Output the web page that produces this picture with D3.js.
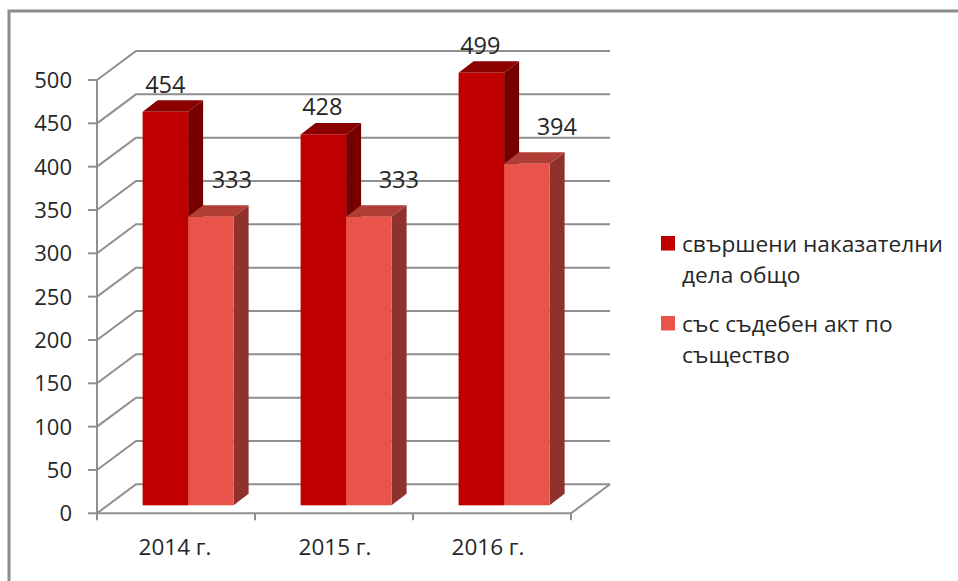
<!DOCTYPE html>
<html><head><meta charset="utf-8">
<script src="https://cdn.jsdelivr.net/npm/d3@7"></script>
<style>html,body{margin:0;padding:0;background:#fff}svg{display:block}text{font-family:"Open Sans",sans-serif;fill:#262626}</style>
</head><body><svg id="c" width="958" height="581"></svg>
<script>
const categories=["2014 г.","2015 г.","2016 г."];
const seriesNames=["свършени наказателни дела общо","със съдебен акт по същество"];
const legendLines=[["свършени наказателни","дела общо"],["със съдебен акт по","същество"]];
const totalCases=[454,428,499];
const withActs=[333,333,394];
const yTicks=[0,50,100,150,200,250,300,350,400,450,500];

const svg=d3.select("#c");
const W=958,H=581;
const y=d3.scaleLinear().domain([0,500]).range([513.3,80]);
const x=d3.scaleBand().domain(categories).range([97,571]);
const wall={dx:39,dy:-29}, barZ={dx:10.6,dy:-8}, barD={dx:15,dy:-11.5};
const barOffset=35, barW=45.5;
const grid="#8f8f8f";
const colors=[{front:"#c00000",top:"#8b0000",side:"#760000"},{front:"#e8534a",top:"#b03e36",side:"#8f322c"}];
const series=[totalCases,withActs];
const labelDx=[[0,-1,-1],[21,30,30]];
const labelDy=[-19,-28.5];
const catDx=[-1,1,-4];

svg.append("path").attr("d",`M9,${H}V11H${W}`).attr("fill","none").attr("stroke","#8c8c8c").attr("stroke-width",3);

const g=svg.append("g").attr("fill","none").attr("stroke",grid).attr("stroke-width",2);
yTicks.forEach(t=>{
  const p=y(t);
  g.append("path").attr("d",`M${x.range()[0]},${p}L${x.range()[0]+wall.dx},${p+wall.dy}H${x.range()[1]+wall.dx}`);
  g.append("line").attr("x1",88).attr("x2",97).attr("y1",p).attr("y2",p);
});
g.append("path").attr("d",`M97,${y(500)}V${y(0)}H571L${571+wall.dx},${y(0)+wall.dy}`);
const xt=[...categories.map(c=>x(c)),571];
xt.forEach(v=>g.append("line").attr("x1",v).attr("x2",v).attr("y1",y(0)).attr("y2",y(0)+7));

svg.append("g").selectAll("text").data(yTicks).join("text")
  .attr("x",72).attr("y",d=>y(d)+8).attr("text-anchor","end").attr("font-size",22).text(d=>d);
svg.append("g").selectAll("text").data(categories).join("text")
  .attr("x",(c,i)=>x(c)+x.bandwidth()/2+catDx[i]).attr("y",555).attr("text-anchor","middle").attr("font-size",22.5).text(c=>c);

categories.forEach((c,i)=>{
  series.forEach((s,j)=>{
    const L=x(c)+barOffset+barZ.dx+j*barW, R=L+barW, B=y(0)+barZ.dy, T=y(s[i])+barZ.dy;
    const b=svg.append("g");
    b.append("path").attr("fill",colors[j].side).attr("d",`M${R},${T}l${barD.dx},${barD.dy}V${B+barD.dy}L${R},${B}Z`);
    b.append("path").attr("fill",colors[j].top).attr("d",`M${L},${T}l${barD.dx},${barD.dy}H${R+barD.dx}L${R},${T}Z`);
    b.append("rect").attr("x",L).attr("y",T).attr("width",barW).attr("height",B-T).attr("fill",colors[j].front);
  });
});
categories.forEach((c,i)=>{
  series.forEach((s,j)=>{
    const L=x(c)+barOffset+barZ.dx+j*barW;
    svg.append("text").attr("x",L+barW/2+labelDx[j][i]).attr("y",y(s[i])+barZ.dy+labelDy[j])
      .attr("text-anchor","middle").attr("font-size",23.5).text(s[i]);
  });
});

const leg=svg.append("g");
[252,332].forEach((ty,j)=>{
  leg.append("rect").attr("x",661).attr("y",ty-16).attr("width",14).attr("height",14.5).attr("fill",colors[j].front);
  legendLines[j].forEach((t,k)=>leg.append("text").attr("x",682).attr("y",ty+k*31).attr("font-size",22.7).text(t));
});
</script></body></html>
